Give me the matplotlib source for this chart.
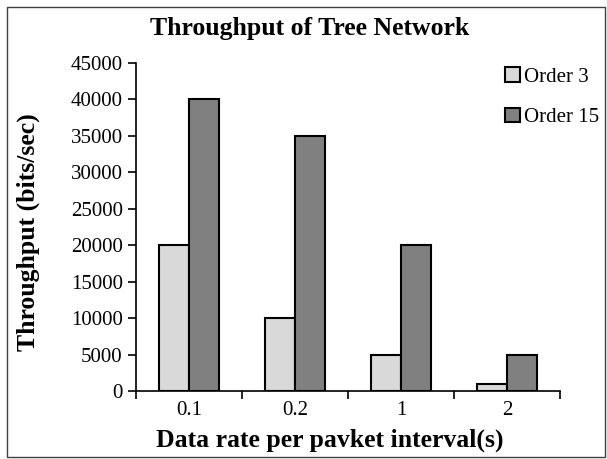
import numpy as np
import matplotlib
matplotlib.use("Agg")
import matplotlib.pyplot as plt
from matplotlib.patches import Rectangle

plt.rcParams['font.family'] = ['Liberation Serif', 'DejaVu Serif']

# data
categories = ["0.1", "0.2", "1", "2"]
order3 = [20000, 10000, 5000, 1000]
order15 = [40000, 35000, 20000, 5000]
series_names = ["Order 3", "Order 15"]

W, H = 607, 459
fig = plt.figure(figsize=(W / 100, H / 100), dpi=100)

# outer frame like Excel chart area
fig.patches.append(Rectangle((7 / W, 2 / H), 598 / W, 450 / H, transform=fig.transFigure,
                             fill=False, edgecolor='#404040', linewidth=1.0))

ax = fig.add_axes([136 / W, 68 / H, 424 / W, 328 / H])

x = np.arange(len(categories))
bw = 0.283
ax.bar(x - bw / 2, order3, bw, color='#d9d9d9', edgecolor='black', linewidth=1.5, label=series_names[0])
ax.bar(x + bw / 2, order15, bw, color='#808080', edgecolor='black', linewidth=1.5, label=series_names[1])

ax.set_xlim(-0.5, len(categories) - 0.5)
ax.set_ylim(0, 45000)
ax.set_yticks(np.arange(0, 45001, 5000))
ax.set_xticks(x)
ax.set_xticklabels(categories)
ax.set_xticks(np.arange(-0.5, len(categories), 1), minor=True)
ax.tick_params(axis='x', which='major', length=0, labelsize=15, pad=7)
ax.tick_params(axis='x', which='minor', length=6, width=1.2, direction='out')
ax.tick_params(axis='y', labelsize=15, length=6, width=1.2, direction='out')

for s in ['top', 'right']:
    ax.spines[s].set_visible(False)
ax.spines['left'].set_linewidth(1.2)
ax.spines['bottom'].set_linewidth(1.2)

fig.text(28 / W, 1 - 232 / H, "Throughput (bits/sec)", fontsize=18.5, fontweight='bold',
         rotation=90, ha='center', va='center')
fig.text(330 / W, 1 - 440 / H, "Data rate per pavket interval(s)", fontsize=18.5,
         fontweight='bold', ha='center', va='center')
fig.text(310 / W, 1 - 29 / H, "Throughput of Tree Network", fontsize=18.5, fontweight='bold',
         ha='center', va='center')

fig.legend(loc='upper left', bbox_to_anchor=(497 / W, 1 - 59 / H), frameon=False,
           fontsize=15, handlelength=0.7, handleheight=0.7, handletextpad=0.2,
           labelspacing=1.0, borderaxespad=0)

fig.savefig("out.png", dpi=100)
